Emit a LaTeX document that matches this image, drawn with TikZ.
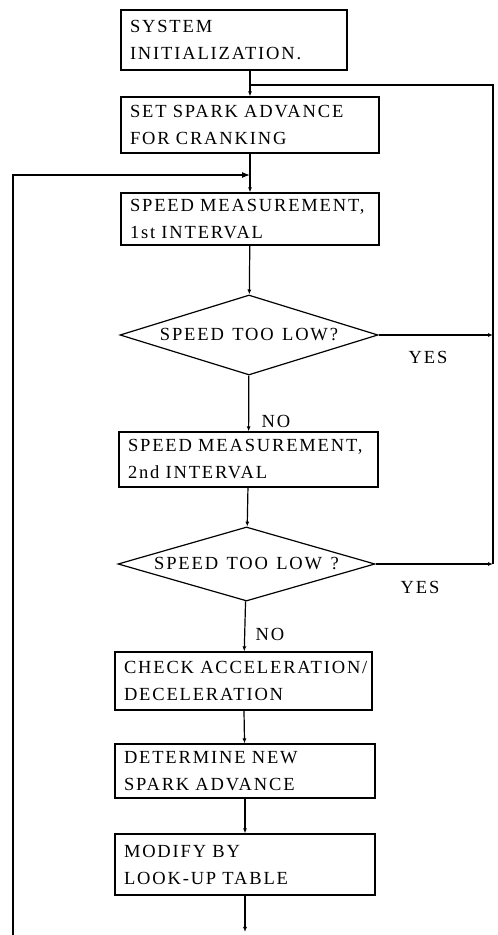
\documentclass[tikz,border=0pt]{standalone}
\usepackage{fontspec}
\setmainfont{Liberation Serif}[LetterSpace=10,WordSpace=1.3]
\usetikzlibrary{shapes.geometric,arrows.meta}

\begin{document}
\begin{tikzpicture}[x=1pt,y=1pt,
    caja/.style={draw,line width=1.2pt,align=left,inner xsep=9pt,inner ysep=3pt,
                 font=\fontsize{18.5}{27}\selectfont},
    rombo/.style={draw,diamond,line width=1.2pt,shape aspect=3,inner sep=0pt,
                  font=\fontsize{18.5}{20}\selectfont},
    etiqueta/.style={font=\fontsize{18.5}{20}\selectfont},
    flecha/.style={line width=1.2pt,-{Latex[length=5pt,width=4pt]}},
    linea/.style={line width=1.2pt}]
    % Marco de la figura
    \useasboundingbox (0,0) rectangle (498,935);

    % Cajas del diagrama
    \node[caja,text width=208pt,minimum height=60pt] (ini) at (234,895) {SYSTEM\\INITIALIZATION.};
    \node[caja,text width=240pt,minimum height=56pt] (spark) at (250,810) {SET SPARK ADVANCE\\FOR CRANKING};
    \node[caja,text width=240pt,minimum height=52pt] (vel1) at (250,716) {SPEED MEASUREMENT,\\1st INTERVAL};
    \node[rombo,minimum width=258pt,minimum height=80pt] (bajo1) at (249,600) {SPEED TOO LOW?};
    \node[caja,text width=241pt,minimum height=55pt] (vel2) at (248.5,475.5) {SPEED MEASUREMENT,\\2nd INTERVAL};
    \node[rombo,minimum width=257pt,minimum height=72pt] (bajo2) at (246.5,371) {SPEED TOO LOW ?};
    \node[caja,text width=239pt,minimum height=58pt] (acel) at (243.5,254) {CHECK ACCELERATION/\\DECELERATION};
    \node[caja,text width=242pt,minimum height=54pt] (avance) at (245,164) {DETERMINE NEW\\SPARK ADVANCE};
    \node[caja,text width=242pt,minimum height=61pt] (tabla) at (245,70.5) {MODIFY BY\\LOOK-UP TABLE};

    % Puntos de los lazos
    \coordinate (ret) at (493,850);
    \coordinate (izq) at (13,0);
    \coordinate (izqa) at (13,760);
    \coordinate (fin) at (245,3);

    % Flujo principal
    \draw[flecha] (spark.north |- ini.south) -- (spark.north);
    \draw[flecha] (spark) -- (vel1);
    \draw[flecha] (vel1) -- (bajo1);
    \draw[flecha] (bajo1) -- (vel2);
    \draw[flecha] (vel2) -- (bajo2);
    \draw[flecha] (bajo2) -- (acel);
    \draw[flecha] (acel) -- (avance);
    \draw[flecha] (avance) -- (tabla);
    \draw[flecha] (tabla) -- (fin);

    % Lazo derecho (YES)
    \draw[flecha] (bajo1.east) -- (bajo1.east -| ret);
    \draw[flecha] (bajo2.east) -- (bajo2.east -| ret);
    \draw[linea] (bajo2.east -| ret) -- (ret) -- (spark.north |- ret);

    % Lazo izquierdo
    \draw[line width=1.2pt,-{Latex[length=8pt,width=6pt]}] (izq) -- (izqa) -- (vel1.north |- izqa);

    % Etiquetas
    \node[etiqueta] (si1) at (428,578) {YES};
    \node[etiqueta] (si2) at (420,348) {YES};
    \node[etiqueta] (no1) at (276,514) {NO};
    \node[etiqueta] (no2) at (270,301) {NO};
\end{tikzpicture}
\end{document}
